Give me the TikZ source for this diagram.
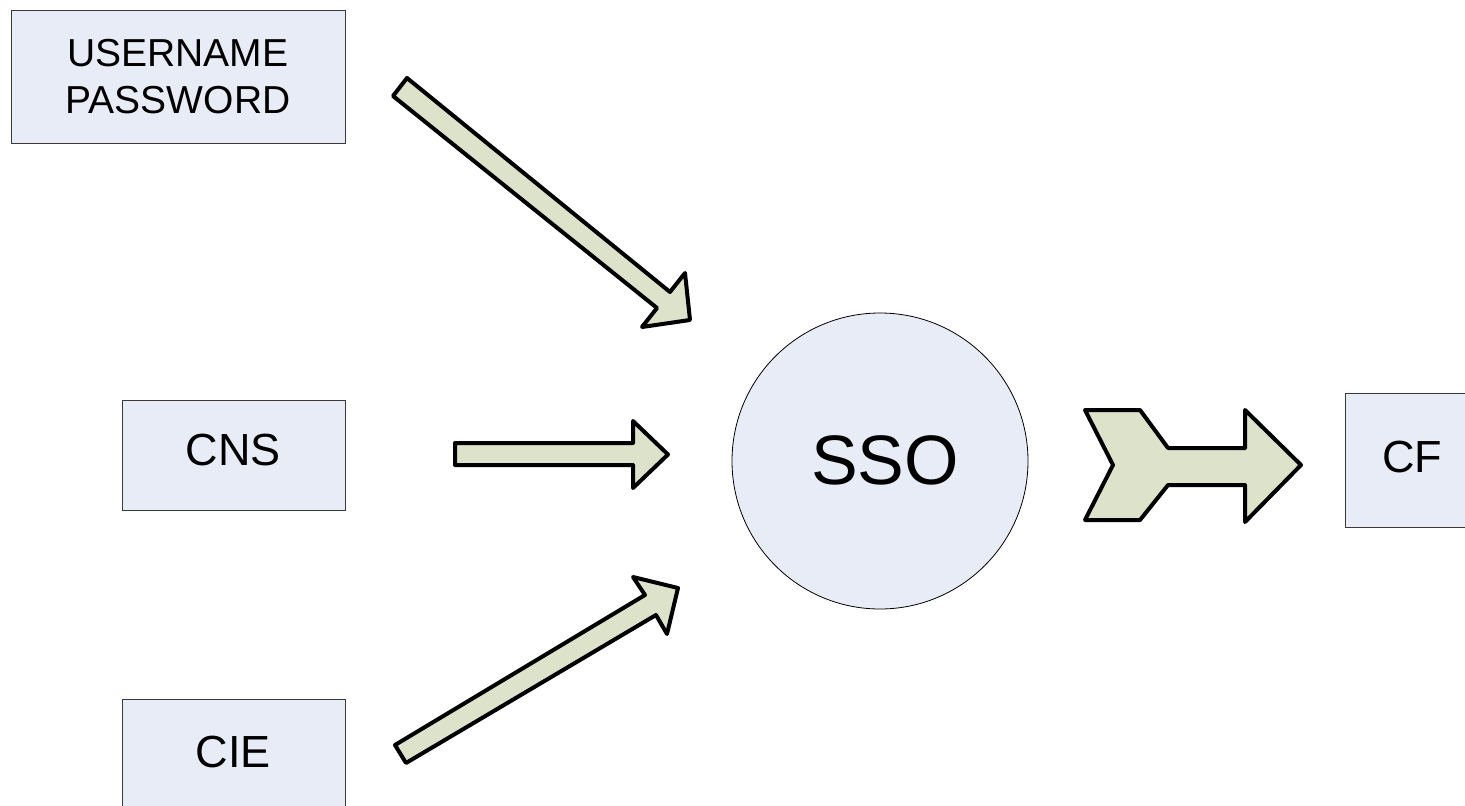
\documentclass[tikz,border=0pt]{standalone}
\usepackage{fontspec}
\setmainfont{Liberation Sans}
\definecolor{boxfill}{HTML}{E7ECF7}
\definecolor{boxline}{HTML}{3A3A3A}
\definecolor{arrowfill}{HTML}{DDE2CB}
\begin{document}
\begin{tikzpicture}[x=1pt,y=-1pt,
  srcbox/.style={draw=boxline,line width=1pt,fill=boxfill,inner sep=0pt,align=center,font=\fontsize{45}{50}\selectfont},
  blockarrow/.style={draw=black,line width=4pt,line join=round,fill=arrowfill}]
\useasboundingbox (0,0) rectangle (1465,806);
\clip (0,0) rectangle (1465,806);
% boxes
\node[srcbox,minimum width=334pt,minimum height=133pt,font=\fontsize{39}{47}\selectfont] (up) at (178,76.5) {USERNAME\\PASSWORD};
\node[srcbox,minimum width=223pt,minimum height=110pt,text depth=10pt] (cns) at (233.5,455) {CNS};
\node[srcbox,minimum width=223pt,minimum height=110pt,text depth=5pt] (cie) at (233.5,754) {CIE};
\node[srcbox,minimum width=134pt,minimum height=134pt,text depth=7pt] (cf) at (1412,460) {CF};
\node[draw=black,line width=0.8pt,fill=boxfill,circle,minimum size=296pt,inner sep=0pt] (sso) at (880,461) {};
\node[inner sep=0pt,font=\fontsize{70}{80}\selectfont] (ssotext) at (885,460) {SSO};
% block arrows
\draw[blockarrow] (407,78) -- (670,292) -- (685,273) -- (690,320) -- (642,327) -- (657,308) -- (393,96) -- cycle;
\draw[blockarrow] (455,443) -- (633,443) -- (633,421) -- (668,454.5) -- (633,488) -- (633,465) -- (455,465) -- cycle;
\draw[blockarrow] (395,745) -- (645,595) -- (633,577) -- (678,588) -- (667,634) -- (656,615) -- (406,763) -- cycle;
\draw[blockarrow] (1085,410) -- (1140,410) -- (1168,448) -- (1245,448) -- (1245,410) -- (1301,465) -- (1245,522) -- (1245,485) -- (1168,485) -- (1140,520) -- (1085,520) -- (1113,465) -- cycle;
\end{tikzpicture}
\end{document}
